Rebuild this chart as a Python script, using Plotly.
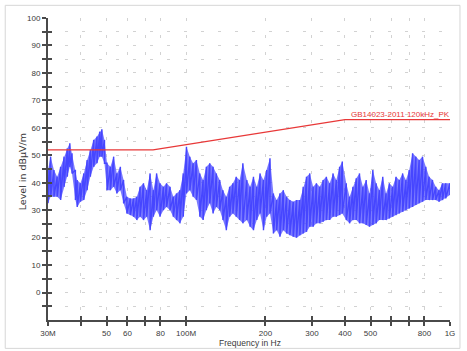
import plotly.graph_objects as go

# Radiated emission scan: per-frequency peak / floor of the measured band (MHz, dBµV/m)
freq_mhz = [
    30.0, 30.7, 31.6, 32.5, 33.5, 34.5, 35.5, 36.3, 37.0, 38.1, 38.7, 39.8, 41.0, 42.2,
    43.4, 44.7, 46.0, 47.1, 48.0, 49.1, 50.2, 51.7, 53.2, 54.7, 56.4, 58.0, 59.7, 61.5,
    63.3, 65.1, 67.0, 69.0, 71.0, 73.1, 75.2, 77.4, 79.7, 82.1, 84.4, 87.0, 89.5, 92.1,
    94.8, 97.6, 100.4, 103.4, 106.4, 109.5, 112.8, 116.1, 119.4, 123.0, 126.6, 130.3,
    134.2, 138.0, 142.1, 146.3, 150.5, 154.9, 159.6, 164.2,
    170.0, 174.9, 180.1, 185.4, 190.8, 196.5, 202.2, 208.0, 214.3, 220.5, 226.9, 233.7,
    240.5, 247.4, 254.8, 262.2, 269.9, 277.9, 286.0, 294.3, 303.1, 311.9, 321.0, 330.6,
    340.2, 350.1, 360.6, 371.0, 381.8, 390.8, 404.6, 416.4, 428.8, 441.4, 454.2, 467.8,
    481.4, 495.4, 510.2, 525.0, 540.2, 556.4, 572.5, 589.1, 606.8, 624.4, 642.5, 661.7,
    680.9, 700.7, 721.7, 742.6, 764.2, 787.1, 810.0, 833.5, 858.4, 883.4, 909.0, 936.2,
    963.4, 1000.0,
]
peak_dbuv = [
    44.6, 49.5, 44.6, 42.2, 45.8, 49.5, 52.5, 54.4, 50.7, 44.6, 41.0, 39.8, 43.4, 48.3,
    51.9, 55.6, 56.8, 58.6, 59.5, 55.6, 47.1, 45.8, 49.5, 43.4, 45.8, 41.0, 34.9, 34.3,
    34.3, 34.9, 38.5, 39.8, 37.3, 43.4, 37.3, 43.4, 39.8, 38.5, 39.8, 38.5, 34.9, 36.1,
    37.3, 43.4, 53.1, 49.5, 47.1, 48.3, 43.4, 41.0, 45.8, 47.1, 45.8, 43.4,
    41.0, 37.3, 34.9, 38.5, 39.8, 42.2, 41.0, 47.1,
    41.0, 38.5, 42.2, 38.5, 43.4, 41.0, 44.6, 48.9, 36.1, 33.7, 36.1, 37.3,
    34.9, 33.7, 33.1, 33.7, 33.7, 38.5, 42.2, 43.4, 38.5, 39.8, 38.5, 41.0,
    42.2, 39.8, 43.4, 41.0, 45.8, 47.7, 39.8, 34.9, 38.5, 41.6, 43.4, 38.5,
    41.0, 36.1, 44.6, 39.8, 37.3, 42.2, 36.1, 39.8, 38.5, 42.2, 41.0, 43.4,
    41.0, 44.6, 50.7, 49.5, 48.3, 49.5, 45.8, 42.2, 41.0, 38.5, 37.3, 39.8,
    39.8, 39.8,
]
floor_dbuv = [
    32.5, 34.9, 34.9, 34.9, 33.7, 38.5, 42.2, 45.8, 43.4, 33.7, 31.2, 33.1, 33.7, 37.3,
    42.2, 45.8, 47.1, 49.5, 49.5, 47.1, 37.3, 37.3, 38.5, 36.1, 37.3, 32.5, 28.8, 28.2,
    27.6, 26.4, 27.6, 26.4, 27.6, 22.7, 27.6, 30.0, 27.6, 30.0, 31.2, 30.0, 27.6, 26.4,
    25.2, 27.6, 36.1, 37.3, 34.9, 33.7, 27.6, 26.4, 30.0, 32.5, 28.8, 31.2,
    30.0, 26.4, 22.7, 27.6, 28.8, 27.6, 26.4, 25.2,
    26.4, 24.0, 22.7, 26.4, 28.8, 22.7, 27.6, 28.8, 21.5, 22.7, 20.3, 22.7,
    21.5, 20.9, 20.3, 20.0, 20.9, 21.5, 22.1, 24.0, 24.0, 25.2, 25.2, 25.8,
    26.4, 26.4, 27.6, 27.6, 28.2, 28.8, 26.4, 25.2, 26.4, 26.4, 25.2, 25.2,
    24.6, 24.0, 24.6, 25.2, 26.4, 26.4, 26.4, 27.0, 27.6, 28.2, 28.8, 29.4,
    30.0, 30.6, 31.2, 31.9, 32.5, 33.1, 33.7, 33.7, 33.7, 33.7, 33.1, 33.7,
    34.3, 35.5,
]

# GB 14023-2011 peak limit (120 kHz RBW)
limit_freq_mhz = [30, 75, 400, 1000]
limit_dbuv = [52, 52, 63, 63]
limit_name = "GB14023-2011 120kHz_PK"

x_tick_vals = [30, 40, 50, 60, 70, 80, 100, 200, 300, 400, 500, 600, 700, 800, 1000]
x_tick_text = ["30M", "", "50", "60", "", "80", "100M", "200", "300", "400", "500", "", "", "800", "1G"]
y_tick_vals = list(range(-5, 101, 5))
y_tick_text = [str(v) if v % 10 == 0 else "" for v in y_tick_vals]

# Band outline (peak edge forward, floor edge back) and a peak/floor zigzag for the spikes
band_x = freq_mhz + freq_mhz[::-1]
band_y = peak_dbuv + floor_dbuv[::-1]
scan_x, scan_y = [], []
for f, hi, lo in zip(freq_mhz, peak_dbuv, floor_dbuv):
    scan_x += [f, f]
    scan_y += [hi, lo]

BLUE = "rgb(70,70,255)"
RED = "rgb(232,56,56)"
AXIS = "#4a4a4a"
GRID = "#d2d2d2"
FONT = "Liberation Sans"

fig = go.Figure()
fig.add_trace(go.Scatter(x=band_x, y=band_y, mode="lines", fill="toself",
                         fillcolor="rgba(70,70,255,0.72)", line=dict(width=0),
                         hoverinfo="skip"))
fig.add_trace(go.Scatter(x=scan_x, y=scan_y, mode="lines",
                         line=dict(color=BLUE, width=1.4), hoverinfo="skip"))
fig.add_trace(go.Scatter(x=limit_freq_mhz, y=limit_dbuv, mode="lines",
                         line=dict(color=RED, width=1.2), hoverinfo="skip"))

axis_common = dict(showline=True, linecolor=AXIS, linewidth=2, ticklen=4, tickwidth=1.5,
                   tickcolor=AXIS, tickfont=dict(family=FONT, size=8, color="#3a3a3a"),
                   showgrid=True, gridcolor=GRID, gridwidth=1, zeroline=False)

fig.update_layout(
    width=467, height=351,
    margin=dict(l=48, r=15, t=18, b=31),
    paper_bgcolor="white", plot_bgcolor="white",
    showlegend=False,
    xaxis=dict(type="log", range=[1.47712, 3.0], tickmode="array",
               tickvals=x_tick_vals, ticktext=x_tick_text, ticks="outside",
               griddash="3px,14px", **axis_common),
    yaxis=dict(range=[-10, 100], tickmode="array", tickvals=y_tick_vals,
               ticktext=y_tick_text, ticks="outside", griddash="3px,14px", **axis_common),
    # mirror axes carrying inward ticks so the tick marks cross the axis lines
    xaxis2=dict(type="log", range=[1.47712, 3.0], overlaying="x", tickmode="array",
                tickvals=x_tick_vals, showticklabels=False, ticks="inside", ticklen=4,
                tickwidth=1.5, tickcolor=AXIS, showgrid=False, showline=False, zeroline=False),
    yaxis2=dict(range=[-10, 100], overlaying="y", tickmode="array", tickvals=y_tick_vals,
                showticklabels=False, ticks="inside", ticklen=4, tickwidth=1.5,
                tickcolor=AXIS, showgrid=False, showline=False, zeroline=False),
)
# invisible anchor trace so the mirror axes are drawn
fig.add_trace(go.Scatter(x=[100], y=[0], xaxis="x2", yaxis="y2", mode="markers",
                         marker=dict(opacity=0), hoverinfo="skip"))

fig.add_annotation(x=3.0, y=63, xref="x", yref="y", text=limit_name, showarrow=False,
                   xanchor="right", yanchor="bottom", xshift=2, yshift=-1,
                   font=dict(family=FONT, size=8, color=RED))
fig.add_annotation(x=-0.064, y=0.49, xref="paper", yref="paper", text="Level in dBµV/m",
                   textangle=-90, showarrow=False, xanchor="center", yanchor="middle",
                   font=dict(family="DejaVu Sans", size=9.5, color="#3a3a3a"))
fig.add_annotation(x=0.503, y=-0.077, xref="paper", yref="paper", text="Frequency in Hz",
                   showarrow=False, xanchor="center", yanchor="middle",
                   font=dict(family=FONT, size=8.5, color="#3a3a3a"))
# light panel frame
fig.add_shape(type="rect", xref="paper", yref="paper", x0=-0.1064, x1=1.0248,
              y0=-0.094, y1=1.042, line=dict(color="#d6d6d6", width=1), layer="below")

fig.write_html("out.html")
